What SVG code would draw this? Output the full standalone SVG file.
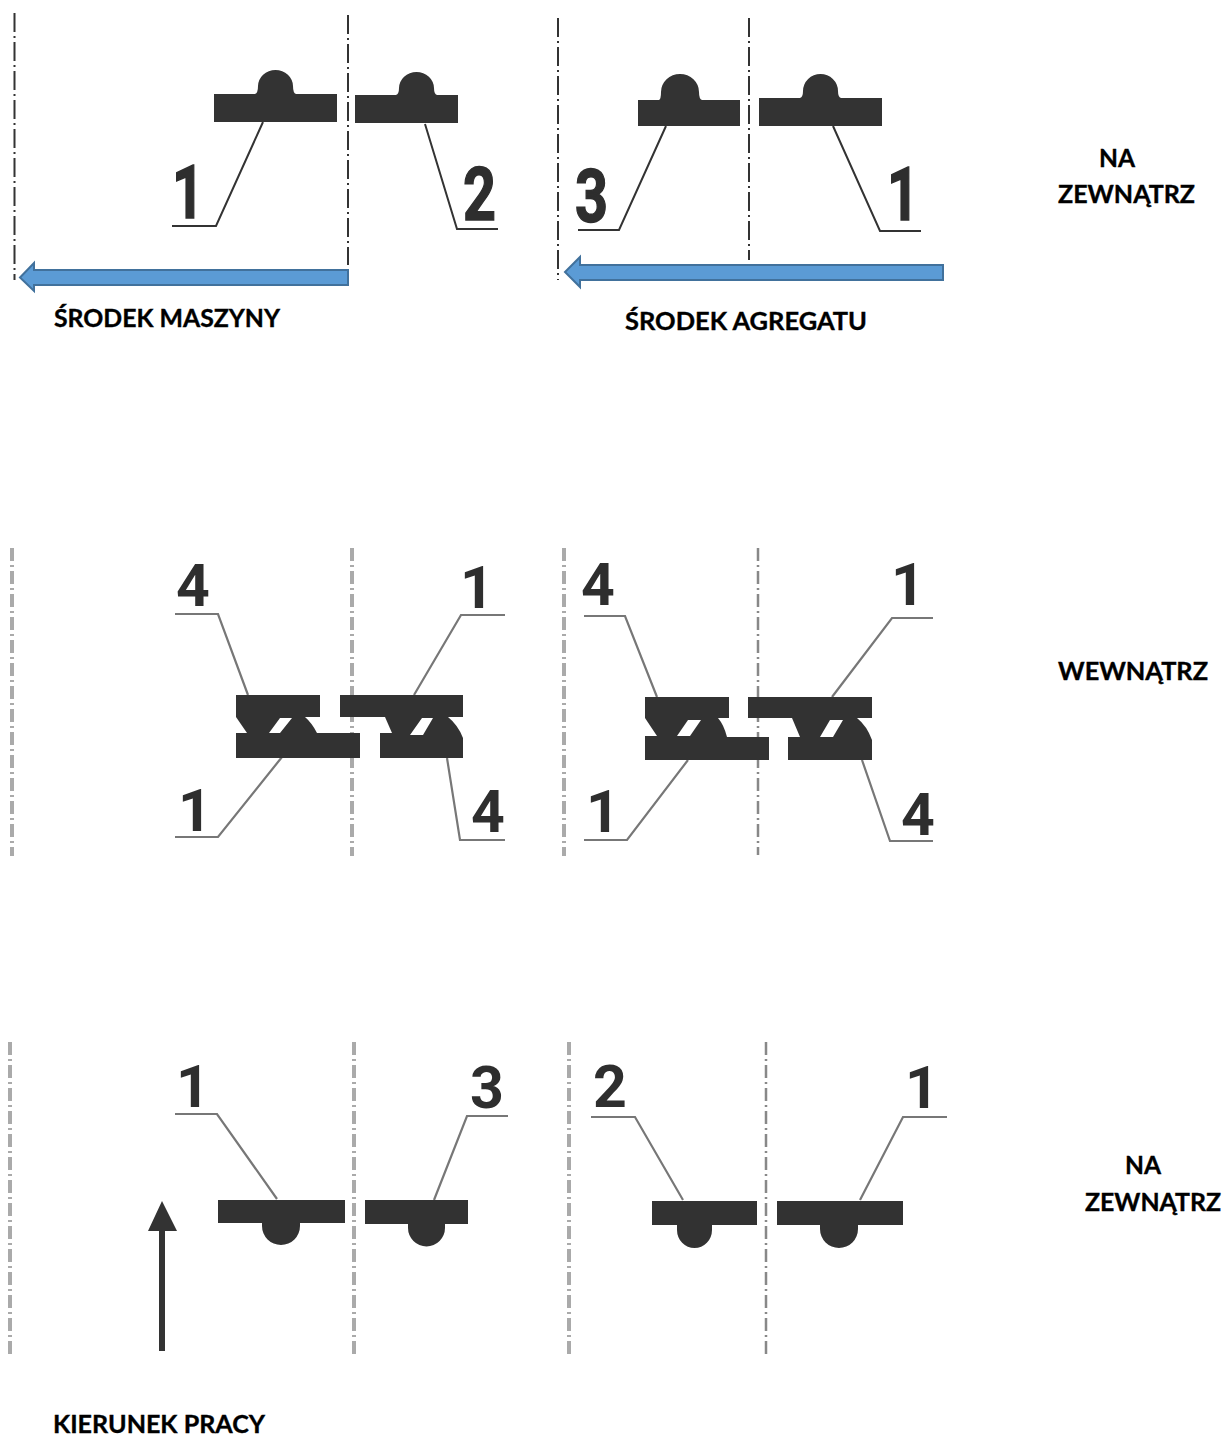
<svg xmlns="http://www.w3.org/2000/svg" width="1232" height="1438" viewBox="0 0 1232 1438">
<defs><filter id="soft" x="-5%" y="-5%" width="110%" height="110%"><feGaussianBlur stdDeviation="0.6"/></filter></defs>
<style>
.plate{fill:#333;fill-rule:evenodd}
.lead{fill:none;stroke:#333;stroke-width:2}
.leadg{fill:none;stroke:#777;stroke-width:2.2}
.axis{fill:none;stroke:#333;stroke-width:2;stroke-dasharray:19 4 2 4}
.axisg{fill:none;stroke:#aaa;stroke-width:4;stroke-dasharray:13 4 2 4}
.axisn{fill:none;stroke:#888;stroke-width:2.5;stroke-dasharray:13 4 2 4}
.num{font-family:Roboto,"Liberation Sans",sans-serif;font-weight:700;fill:#2e2e2e}
.n1{font-size:75px;stroke:#2e2e2e;stroke-width:1.5}
.n2{font-size:59px}
.lab{font-family:Lato,"Liberation Sans",sans-serif;font-weight:700;font-size:24px;fill:#000;stroke:#000;stroke-width:.35}
.blue{fill:#5b9bd5;stroke:#41719c;stroke-width:2}
.dark{fill:#333;stroke:none}
</style>
<rect width="1232" height="1438" fill="#fff"/>
<g id="connectors">
<path class="axis" d="M14.500 13V280M348 15V265M558 18V280M749 18V260"/>
<path class="axisg" d="M12 548V856M352 548V856M564 548V856M10 1042V1355M354 1042V1355M569 1042V1358"/>
<path class="axisn" d="M758 548V855M766 1042V1358"/>
<path class="lead" d="M263 122L216 226H172M425 124L457 229H498M666 126L619 230H578M833 126L880 231H921"/>
<path class="leadg" d="M248 695L218 614H175M414 695L461 615H505M282 757L218 837H175M447 758L460 840H505M657 697L625 616H584M832 697L892 618H933M688 760L627 840H584M862 760L890 841H933M277 1199L217 1114H175M434 1200L467 1116H508M683 1200L635 1117H591M860 1200L903 1117H947"/>
<path id="arrow-work" class="dark" d="M159 1351V1231H148L162 1201L177 1231H165V1351Z"/>
<path id="arrow-machine" class="blue" d="M348 270V285H34V291L20 277.500L34 263V270Z"/>
<path id="arrow-unit" class="blue" d="M943 265V280H580V287L565 272L580 257V265Z"/>
</g>
<g id="top-row">
<path id="t1" class="plate" d="M214 94H255Q258 93 258 86A17.500 16 0 0 1 293 86Q293 93 296 94H337V122H214Z"/>
<path id="t2" class="plate" d="M355 95H396Q399 94 399 88A17.500 16 0 0 1 434 88Q434 94 437 95H458V123H355Z"/>
<path id="t3" class="plate" d="M638 100H659Q661 99 661 92A19 18 0 0 1 699 92Q699 99 702 100H740V126H638Z"/>
<path id="t4" class="plate" d="M759 98H800Q803 97 803 91A17.500 17 0 0 1 838 91Q838 97 841 98H882V126H759Z"/>
<text class="num n1" x="172" y="218" textLength="32" lengthAdjust="spacingAndGlyphs">1</text>
<text class="num n1" x="463" y="220" textLength="33" lengthAdjust="spacingAndGlyphs">2</text>
<text class="num n1" x="575" y="222" textLength="33" lengthAdjust="spacingAndGlyphs">3</text>
<text class="num n1" x="887" y="220" textLength="32" lengthAdjust="spacingAndGlyphs">1</text>
</g>
<g id="middle-row" filter="url(#soft)">
<path id="m1" class="plate" d="M236 695H320V717H305Q312 723 317 733H360V758H236V733H247L236 717ZM280 718H292L280 733H269Z"/>
<path id="m2" class="plate" d="M340 695H463V717H448Q458 725 463 738V758H380V733H392L385 717H340ZM422 718H433L423 735H410Z"/>
<path id="m3" class="plate" d="M645 697H729V718H718Q724 725 727 737H769V760H645V736H657L645 718ZM688 720H701L690 736H677Z"/>
<path id="m4" class="plate" d="M748 697H872V718H857Q867 726 872 740V760H788V737H800L792 718H748ZM830 720H843L833 737H820Z"/>
<text class="num n2" x="176" y="606">4</text>
<text class="num n2" x="460" y="608">1</text>
<text class="num n2" x="178" y="831">1</text>
<text class="num n2" x="471" y="832">4</text>
<text class="num n2" x="581" y="605">4</text>
<text class="num n2" x="891" y="605">1</text>
<text class="num n2" x="586" y="832">1</text>
<text class="num n2" x="901" y="835">4</text>
</g>
<g id="bottom-row" filter="url(#soft)">
<path id="b1" class="plate" d="M218 1200H345V1223H300V1226A19 19 0 0 1 262 1226V1223H218Z"/>
<path id="b2" class="plate" d="M365 1200H468V1224H445V1228A18.500 18.500 0 0 1 408 1228V1224H365Z"/>
<path id="b3" class="plate" d="M652 1201H757V1225H712V1230A17.500 18 0 0 1 677 1230V1225H652Z"/>
<path id="b4" class="plate" d="M777 1201H903V1225H858V1229A19 19 0 0 1 820 1229V1225H777Z"/>
<text class="num n2" x="176" y="1107">1</text>
<text class="num n2" x="470" y="1108">3</text>
<text class="num n2" x="593" y="1107">2</text>
<text class="num n2" x="905" y="1108">1</text>
</g>
<g id="labels">
<text class="lab" x="54" y="327" textLength="226" lengthAdjust="spacingAndGlyphs">ŚRODEK MASZYNY</text>
<text class="lab" x="625" y="330" textLength="242" lengthAdjust="spacingAndGlyphs">ŚRODEK AGREGATU</text>
<text class="lab" x="1099" y="167" textLength="36" lengthAdjust="spacingAndGlyphs">NA</text>
<text class="lab" x="1058" y="203" textLength="137" lengthAdjust="spacingAndGlyphs">ZEWNĄTRZ</text>
<text class="lab" x="1058" y="680" textLength="150" lengthAdjust="spacingAndGlyphs">WEWNĄTRZ</text>
<text class="lab" x="1125" y="1174" textLength="36" lengthAdjust="spacingAndGlyphs">NA</text>
<text class="lab" x="1085" y="1211" textLength="136" lengthAdjust="spacingAndGlyphs">ZEWNĄTRZ</text>
<text class="lab" x="53" y="1433" textLength="212" lengthAdjust="spacingAndGlyphs">KIERUNEK PRACY</text>
</g>
</svg>
